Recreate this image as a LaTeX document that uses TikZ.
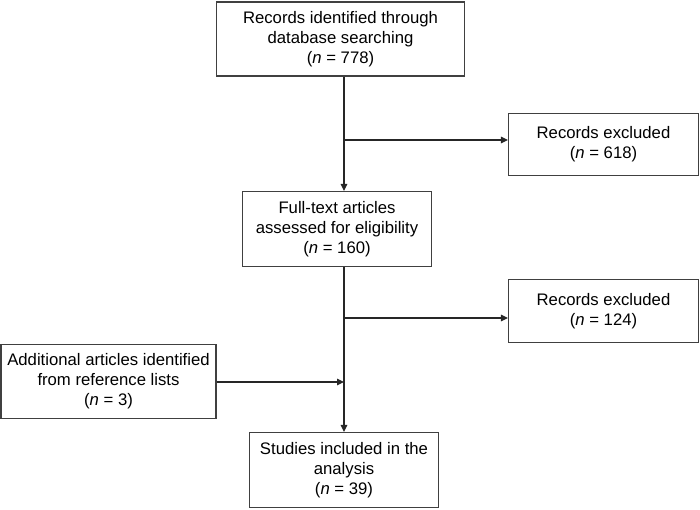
\documentclass[tikz,border=0pt]{standalone}
\usepackage{fontspec}
\setmainfont{Liberation Sans}
\usetikzlibrary{arrows.meta}
\begin{document}
\begin{tikzpicture}[x=1pt,y=-1pt,
  boxnode/.style={draw=black!75,line width=1.1pt,align=center,inner sep=0pt,
    font=\fontsize{16.7}{20}\selectfont},
  conn/.style={draw=black!85,line width=1.2pt},
  arr/.style={conn,-{Triangle[length=7pt,width=6.5pt]}}]
\useasboundingbox (0,0) rectangle (700,509);
\node[boxnode,minimum width=248pt,minimum height=74pt] (rec) at (340.5,39)
  {Records identified through\\database searching\\(\textit{n} = 778)};
\node[boxnode,minimum width=190pt,minimum height=62pt] (ex1) at (603.5,144.5)
  {Records excluded\\(\textit{n} = 618)};
\node[boxnode,minimum width=189pt,minimum height=75pt] (full) at (337,229)
  {Full-text articles\\assessed for eligibility\\(\textit{n} = 160)};
\node[boxnode,minimum width=190pt,minimum height=63pt] (ex2) at (603.5,311)
  {Records excluded\\(\textit{n} = 124)};
\node[boxnode,minimum width=215pt,minimum height=74pt] (add) at (108.5,381.5)
  {Additional articles identified\\from reference lists\\(\textit{n} = 3)};
\node[boxnode,minimum width=189pt,minimum height=75pt] (inc) at (344,470)
  {Studies included in the\\analysis\\(\textit{n} = 39)};
\coordinate (col) at (344,0);
\coordinate (b1) at (344,140);
\coordinate (b2) at (344,318);
\coordinate (m) at (344,382);
\draw[arr] (rec.south -| col) -- (full.north -| col);
\draw[arr] (b1) -- (ex1.west |- b1);
\draw[arr] (full.south -| col) -- (inc.north);
\draw[arr] (b2) -- (ex2.west |- b2);
\draw[arr] (add.east |- m) -- (m);
\end{tikzpicture}
\end{document}
